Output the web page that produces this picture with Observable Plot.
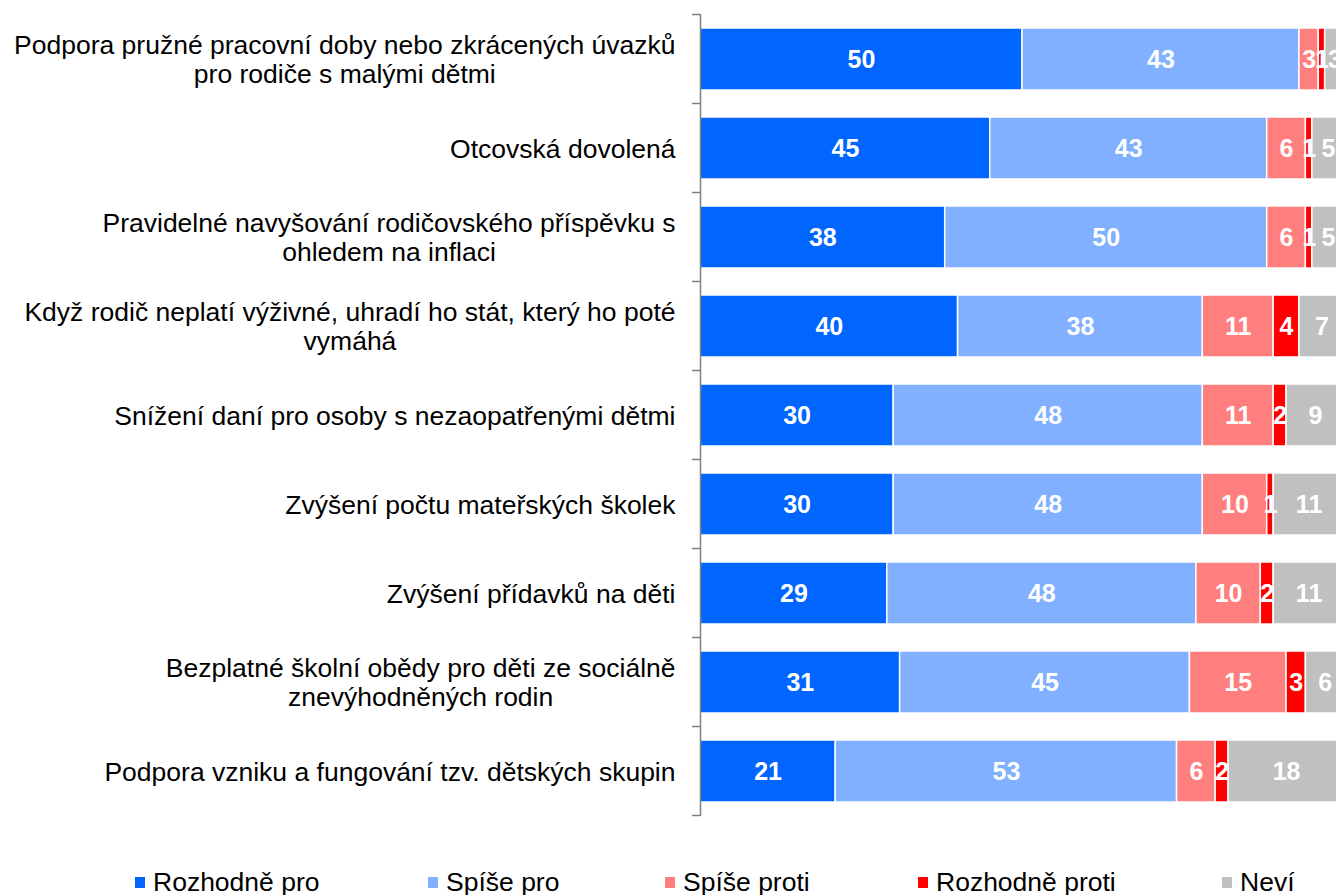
<!DOCTYPE html>
<html>
<head>
<meta charset="utf-8">
<script src="https://cdn.jsdelivr.net/npm/d3@7"></script>
<script src="https://cdn.jsdelivr.net/npm/@observablehq/plot@0.6"></script>
<style>
  html, body { margin: 0; padding: 0; background: #fff; overflow: hidden; }
  #wrap { position: relative; width: 1336px; height: 895px; overflow: hidden; font-family: Arial, "Liberation Sans", sans-serif; }
  #chart svg { overflow: hidden; display: block; }
  #legend { position: absolute; left: 0; top: 850px; width: 1336px; height: 45px; }
  .item { position: absolute; top: 20px; font-size: 26.5px; line-height: 24px; color: #000; white-space: nowrap; }
  .sw { position: absolute; top: 7px; width: 10px; height: 11px; }
</style>
</head>
<body>
<div id="wrap">
  <div id="chart"></div>
  <div id="legend"></div>
</div>
<script>
const categories = [
  "Podpora pružné pracovní doby nebo zkrácených úvazků\npro rodiče s malými dětmi",
  "Otcovská dovolená",
  "Pravidelné navyšování rodičovského příspěvku s\nohledem na inflaci",
  "Když rodič neplatí výživné, uhradí ho stát, který ho poté\nvymáhá",
  "Snížení daní pro osoby s nezaopatřenými dětmi",
  "Zvýšení počtu mateřských školek",
  "Zvýšení přídavků na děti",
  "Bezplatné školní obědy pro děti ze sociálně\nznevýhodněných rodin",
  "Podpora vzniku a fungování tzv. dětských skupin"
];
const seriesNames = ["Rozhodně pro", "Spíše pro", "Spíše proti", "Rozhodně proti", "Neví"];
const seriesColors = ["#0066FF", "#80B0FF", "#FF7F7F", "#FF0000", "#C0C0C0"];
const rozhodnePro   = [50, 45, 38, 40, 30, 30, 29, 31, 21];
const spisePro      = [43, 43, 50, 38, 48, 48, 48, 45, 53];
const spiseProti    = [3, 6, 6, 11, 11, 10, 10, 15, 6];
const rozhodneProti = [1, 1, 1, 4, 2, 1, 2, 3, 2];
const nevi          = [3, 5, 5, 7, 9, 11, 11, 6, 18];
const seriesValues = [rozhodnePro, spisePro, spiseProti, rozhodneProti, nevi];

const data = [];
categories.forEach((cat, i) => {
  seriesNames.forEach((s, j) => {
    data.push({cat, series: s, value: seriesValues[j][i]});
  });
});

const W = 1336, H = 850;
const FONT = "Arial, 'Liberation Sans', sans-serif";
const LABEL_SIZE = 26.5;

// measure label block widths so multi-line labels are centred within a right-aligned block
const ctx = document.createElement("canvas").getContext("2d");
ctx.font = `${LABEL_SIZE}px Arial, "Liberation Sans", sans-serif`;
const blockWidth = c => Math.max(...c.split("\n").map(l => ctx.measureText(l).width));

const boundaryTicks = (index, scales) => {
  const y = scales.y, x = scales.x;
  const step = y.step(), bw = y.bandwidth();
  const x0 = x(0);
  const ys = categories.map(c => y(c) - (step - bw) / 2);
  ys.push(y(categories[categories.length - 1]) + bw + (step - bw) / 2);
  const g = d3.create("svg:g");
  g.selectAll("line").data(ys).join("line")
    .attr("x1", x0 - 8).attr("x2", x0)
    .attr("y1", d => d).attr("y2", d => d)
    .attr("stroke", "#7f7f7f").attr("stroke-width", 1.5);
  return g.node();
};

const labelMarks = categories.map(c =>
  Plot.text([c], {y: d => d, text: d => d, frameAnchor: "left", textAnchor: "middle",
    dx: -25 - blockWidth(c) / 2, fontSize: LABEL_SIZE, lineHeight: 1.06, fill: "#000"})
);

const chart = Plot.plot({
  width: W,
  height: H,
  marginLeft: 700,
  marginRight: 0,
  marginTop: 14,
  marginBottom: 34,
  style: {fontFamily: FONT, fontSize: "26px", background: "#fff"},
  x: {domain: [0, 100], range: [700, 1344], axis: null},
  y: {domain: categories, paddingInner: 0.3, paddingOuter: 0.15, axis: null},
  color: {domain: seriesNames, range: seriesColors},
  marks: [
    Plot.barX(data, {x: "value", y: "cat", fill: "series", stroke: "#fff", strokeWidth: 1.5}),
    Plot.text(data, Plot.stackX({x: "value", y: "cat", text: d => String(d.value), fill: "#fff", fontWeight: "bold", fontSize: 25})),
    Plot.ruleX([0], {stroke: "#7f7f7f", strokeWidth: 1.5}),
    boundaryTicks,
    ...labelMarks
  ]
});
document.getElementById("chart").appendChild(chart);

const legendLefts = [135, 428, 665, 918, 1222];
const legend = document.getElementById("legend");
seriesNames.forEach((s, i) => {
  const item = document.createElement("div");
  item.className = "item";
  item.style.left = legendLefts[i] + "px";
  const sw = document.createElement("span");
  sw.className = "sw";
  sw.style.left = "0px";
  sw.style.background = seriesColors[i];
  const t = document.createElement("span");
  t.style.marginLeft = "18px";
  t.textContent = s;
  item.appendChild(sw);
  item.appendChild(t);
  legend.appendChild(item);
});
</script>
</body>
</html>
